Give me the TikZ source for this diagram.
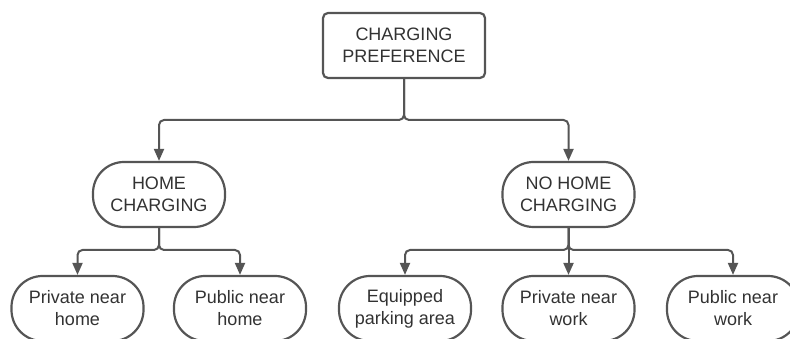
\documentclass[tikz,border=0pt]{standalone}
\usepackage{fontspec}
\setmainfont{Liberation Sans}
\usetikzlibrary{arrows.meta}
\definecolor{linegray}{RGB}{85,85,85}
\definecolor{textgray}{RGB}{50,50,50}

\tikzset{
  rootbox/.style={draw=linegray, line width=2.2pt, rounded corners=5pt,
    minimum width=162pt, minimum height=65pt, align=center,
    text=textgray, font=\fontsize{18}{22}\selectfont},
  pillbox/.style={draw=linegray, line width=2.2pt, rounded corners=31pt,
    minimum width=132pt, minimum height=65pt, align=center,
    text=textgray, font=\fontsize{18}{22}\selectfont},
  branch/.style={draw=linegray, line width=2pt, rounded corners=5pt,
    -{Triangle[width=10pt,length=12pt]}},
}

\begin{document}
\begin{tikzpicture}[x=1pt, y=-1pt]
  \useasboundingbox (0,0) rectangle (790,339);
  \begin{scope}
    \clip (0,0) rectangle (790,339);
    % top
    \node[rootbox] (pref) at (404,45.5) {CHARGING\\PREFERENCE};
    % second level
    \node[pillbox] (home) at (159,194.5) {HOME\\CHARGING};
    \node[pillbox] (nohome) at (568.5,194.5) {NO HOME\\CHARGING};
    % leaves
    \node[pillbox] (privhome) at (77.5,308.5) {Private near\\home};
    \node[pillbox] (pubhome) at (240,308.5) {Public near\\home};
    \node[pillbox] (parking) at (405,308.5) {Equipped\\parking area};
    \node[pillbox] (privwork) at (568.5,308.5) {Private near\\work};
    \node[pillbox] (pubwork) at (733,308.5) {Public near\\work};
    % connectors
    \draw[branch] (pref.south) |- (282,120) -| (home.north);
    \draw[branch] (pref.south) |- (487,120) -| (nohome.north);
    \draw[branch] (home.south) |- (118,250) -| (privhome.north);
    \draw[branch] (home.south) |- (200,250) -| (pubhome.north);
    \draw[branch] (nohome.south) |- (487,250) -| (parking.north);
    \draw[branch] (nohome.south) -- (privwork.north);
    \draw[branch] (nohome.south) |- (650,250) -| (pubwork.north);
  \end{scope}
\end{tikzpicture}
\end{document}
